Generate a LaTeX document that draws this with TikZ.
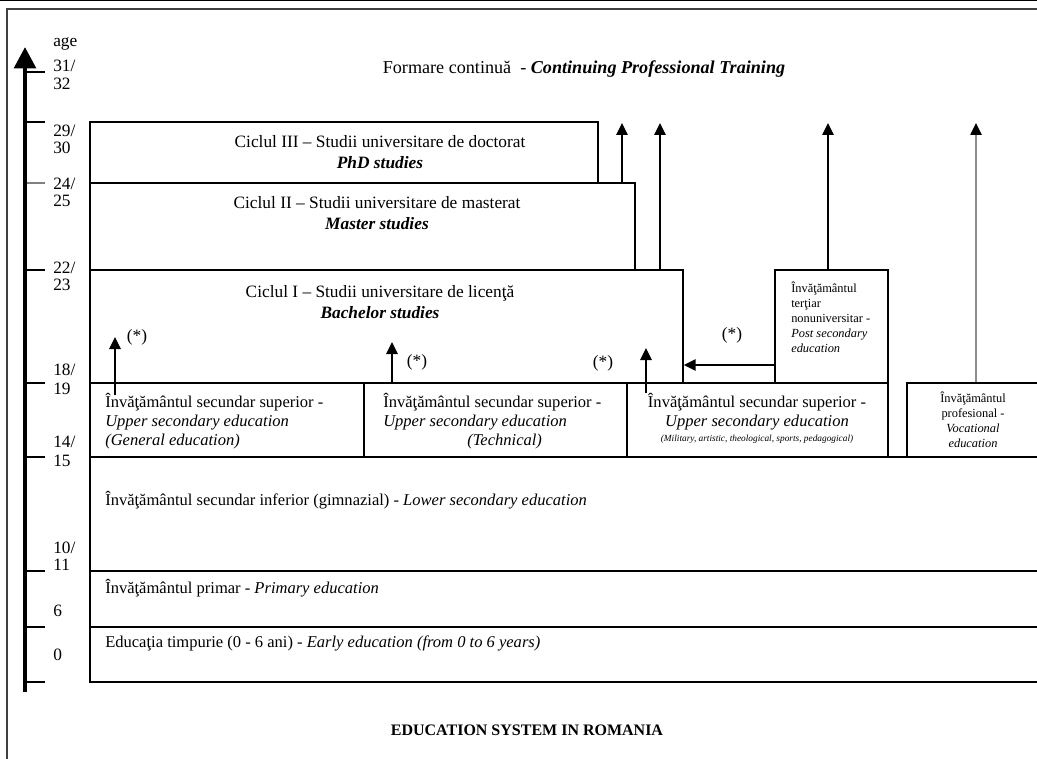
\documentclass[tikz,border=0pt]{standalone}
\usepackage{fontspec}
\setmainfont{Liberation Serif}
\usetikzlibrary{arrows.meta,fit,positioning}

\begin{document}
\begin{tikzpicture}[x=0.75pt, y=-0.75pt,
		box/.style={draw, line width=1.1pt, inner sep=0pt, fit={#1}},
		up/.style={-{Triangle[width=8.5pt,length=9pt]}, line width=1.2pt},
		tick/.style={line width=1.1pt},
		big/.style={font=\fontsize{13}{15.75}\selectfont, align=center, inner sep=0pt},
		sec/.style={font=\fontsize{12.4}{14.25}\selectfont, inner sep=0pt},
		tiny/.style={font=\fontsize{9.3}{11.25}\selectfont, inner sep=0pt},
		agelbl/.style={font=\fontsize{13}{13}\selectfont, anchor=west, inner sep=0pt}] % {{{
		% Page and frame {{{
		\useasboundingbox (0,0) rectangle (1037,759);
		\clip (0,0) rectangle (1037,759);
		\draw[line width=1pt] (0,0.7) -- (1037,0.7);
		\draw[line width=1.5pt, black!75] (7,9) rectangle (1060,790);
		% }}}
		% Age axis {{{
		\coordinate (axbot) at (25,692);
		\coordinate (axtop) at (25,47);
		\draw[line width=3.4pt, -{Triangle[width=16pt,length=16pt]}] (axbot) -- (axtop);
		\foreach \y in {72,122,270,383,457,571,627,682}
			\draw[tick] (27,\y) -- (45,\y);
		\draw[tick, gray] (27,183) -- (45,183);
		\foreach \y/\t in {44/age,66/{31/},84/32,131/{29/},148/30,184/{24/},201/25,268/{22/},285/23,370/{18/},389/19,442/{14/},461/15,548/{10/},565/11,611/6,655/0}
			\node[agelbl] (age\y) at (53,\y) {\t};
		% }}}
		% Tertiary education {{{
		\node[box={(90,122) (598,183)}] (phd) {};
		\node[box={(90,183) (635,270)}] (master) {};
		\node[box={(90,270) (683,383)}] (bach) {};
		\node[box={(775,270) (888,383)}] (post) {};
		\node[big, font=\fontsize{13.6}{15.75}\selectfont] (cptxt) at (584,69) {Formare continuă \ - \textbf{\textit{Continuing Professional Training}}};
		\node[big] (phdtxt) at (380,152) {Ciclul III – Studii universitare de doctorat\\\textbf{\textit{PhD studies}}};
		\node[big] (mastertxt) at (377,213) {Ciclul II – Studii universitare de masterat\\\textbf{\textit{Master studies}}};
		\node[big] (bachtxt) at (380,302) {Ciclul I – Studii universitare de licenţă\\\textbf{\textit{Bachelor studies}}};
		\node[tiny, anchor=west, align=left] (posttxt) at (791,317) {Învăţământul\\terţiar\\nonuniversitar -\\\textit{Post secondary}\\\textit{education}};
		% }}}
		% Upper secondary {{{
		\node[box={(90,383) (364,457)}] (gen) {};
		\node[box={(364,383) (627,457)}] (tech) {};
		\node[box={(627,383) (888,457)}] (spec) {};
		\node[box={(907,383) (1060,457)}] (voc) {};
		\node[sec, anchor=west, align=left] (gentxt) at (105,421) {Învăţământul secundar superior -\\\textit{Upper secondary education}\\\textit{(General education)}};
		\node[sec, anchor=west, align=left] (techtxt) at (383,421) {Învăţământul secundar superior -\\\textit{Upper secondary education}\\\hspace*{63pt}\textit{(Technical)}};
		\node[sec, align=center] (spectxt) at (757,418) {Învăţământul secundar superior -\\\textit{Upper secondary education}\\[-3pt]{\fontsize{7}{8}\selectfont\textit{(Military, artistic, theological, sports, pedagogical)}}};
		\node[tiny, align=center] (voctxt) at (973,420) {Învăţământul\\profesional -\\\textit{Vocational}\\\textit{education}};
		% }}}
		% Lower levels {{{
		\node[box={(90,457) (1060,571)}] (lower) {};
		\node[box={(90,571) (1060,627)}] (prim) {};
		\node[box={(90,627) (1060,682)}] (early) {};
		\node[sec, anchor=west] (lowertxt) at (105,500) {Învăţământul secundar inferior (gimnazial) - \textit{Lower secondary education}};
		\node[sec, anchor=west] (primtxt) at (105,588) {Învăţământul primar - \textit{Primary education}};
		\node[sec, anchor=west] (earlytxt) at (105,643) {Educaţia timpurie (0 - 6 ani) - \textit{Early education (from 0 to 6 years)}};
		% }}}
		% Access arrows {{{
		\coordinate (tipphd) at (622,123);
		\coordinate (tipmas) at (660,123);
		\coordinate (tippost) at (828,123);
		\coordinate (tipvoc) at (976,123);
		\draw[up] (tipphd |- master.north) -- (tipphd);
		\draw[up] (tipmas |- bach.north) -- (tipmas);
		\draw[up] (tippost |- post.north) -- (tippost);
		\draw[line width=1.2pt, black!45, -{Triangle[width=8.5pt,length=9pt,black]}] (tipvoc |- voc.north) -- (tipvoc);
		\coordinate (gentail) at (115,395);
		\coordinate (gentip) at (115,337);
		\coordinate (techtip) at (392,342);
		\coordinate (spectail) at (646,393);
		\coordinate (spectip) at (646,348);
		\coordinate (postmid) at (730,365);
		\draw[up] (gentail) -- (gentip);
		\draw[up] (techtip |- tech.north) -- (techtip);
		\draw[up] (spectail) -- (spectip);
		\draw[up] (post.west |- postmid) -- (bach.east |- postmid);
		\node[big] (stgen) at (137,337) {(*)};
		\node[big] (sttech) at (417,362) {(*)};
		\node[big] (stspec) at (603,363) {(*)};
		\node[big] (stpost) at (732,335) {(*)};
		% }}}
		\node[font=\fontsize{12}{14}\selectfont\bfseries] (title) at (527,730) {EDUCATION SYSTEM IN ROMANIA};
		\end{tikzpicture} % }}}
\end{document}
